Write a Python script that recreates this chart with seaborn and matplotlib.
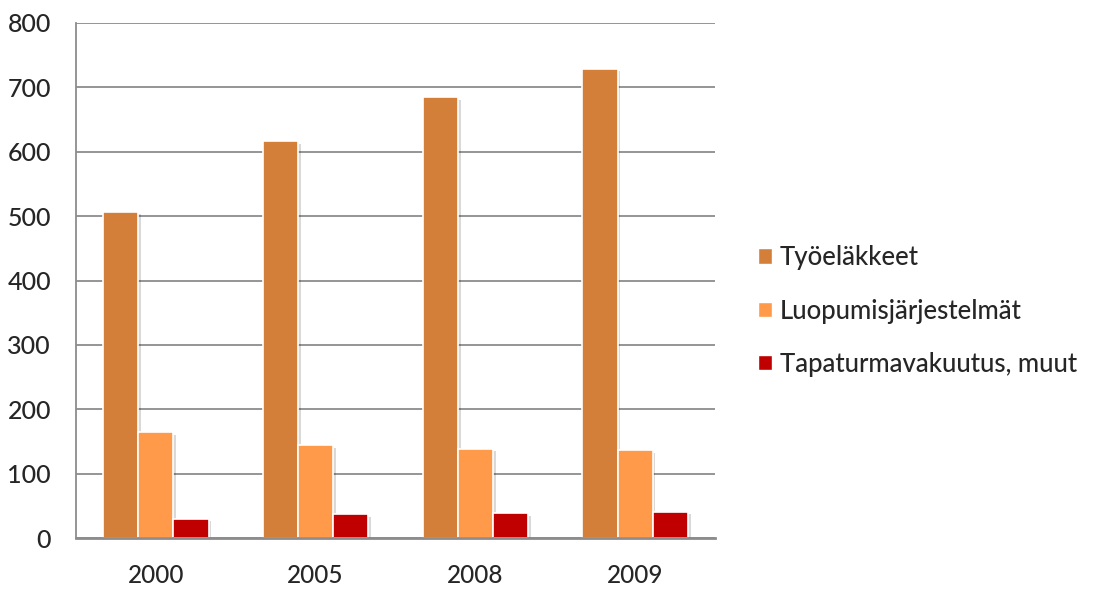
import matplotlib
matplotlib.use("Agg")
import matplotlib.pyplot as plt
import matplotlib.patheffects as pe
import seaborn as sns
import pandas as pd
from matplotlib.patches import Patch

years = ["2000", "2005", "2008", "2009"]
series_names = ["Työeläkkeet", "Luopumisjärjestelmät", "Tapaturmavakuutus, muut"]
tyoelakkeet = [507, 617, 685, 729]
luopumis = [164, 144, 139, 137]
tapaturma = [30, 37, 39, 41]
yticks = [0, 100, 200, 300, 400, 500, 600, 700, 800]
colors = ["#D37F3A", "#FF9A4A", "#C00000"]

rows = []
for name, vals in zip(series_names, [tyoelakkeet, luopumis, tapaturma]):
    for y, v in zip(years, vals):
        rows.append({"Vuosi": y, "Sarja": name, "Arvo": v})
df = pd.DataFrame(rows)

sns.set_theme(style="white")
plt.rcParams['font.family'] = ['Lato', 'DejaVu Sans']

fig = plt.figure(figsize=(10.94, 5.92), dpi=100)
ax = fig.add_axes([76/1094, 1-538/592, (715-76)/1094, (538-23)/592])

sns.barplot(data=df, x="Vuosi", y="Arvo", hue="Sarja", palette=colors,
            saturation=1, width=0.66, edgecolor="white", linewidth=1.2,
            ax=ax, zorder=3, legend=False)

for p in ax.patches:
    p.set_path_effects([pe.SimplePatchShadow(offset=(2, -2), shadow_rgbFace="#000000", alpha=0.15), pe.Normal()])

ax.set_ylim(0, 800)
ax.set_xlim(-0.5, 3.5)
ax.set_yticks(yticks)
ax.set_yticklabels([str(t) for t in yticks], fontsize=18, fontweight="medium")
for lbl in ax.get_xticklabels():
    lbl.set_fontweight("medium")
ax.tick_params(axis='x', labelsize=17.5, pad=19, length=0)
ax.tick_params(axis='y', pad=18, length=0)
ax.yaxis.grid(True, color="#8c8c8c", linewidth=1.3, zorder=0)
ax.set_axisbelow(True)
ax.set_xlabel("")
ax.set_ylabel("")
for s in ["top", "right"]:
    ax.spines[s].set_visible(False)
ax.spines["left"].set_color("#8c8c8c")
ax.spines["left"].set_linewidth(1.3)
ax.spines["bottom"].set_color("#8c8c8c")
ax.spines["bottom"].set_linewidth(2)
ax.spines["bottom"].set_zorder(5)

handles = [Patch(facecolor=c, edgecolor="white", label=n) for c, n in zip(colors, series_names)]
fig.legend(handles=handles, loc="center left", bbox_to_anchor=(758/1094, 1-311/592),
           frameon=False, handlelength=0.55, handleheight=0.55,
           handletextpad=0.3, labelspacing=1.1, borderpad=0, borderaxespad=0,
           prop={"size": 18.5, "weight": "medium"})

fig.savefig("out.png", dpi=100)
